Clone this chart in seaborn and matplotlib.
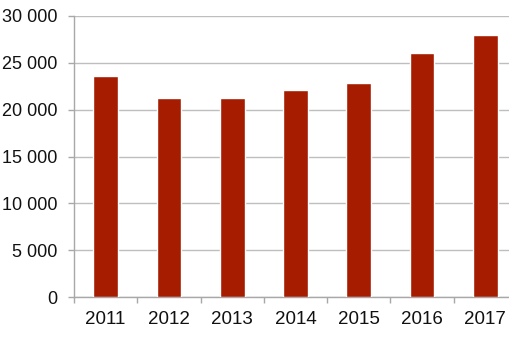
import matplotlib
matplotlib.use("Agg")
import matplotlib.pyplot as plt
import seaborn as sns
import pandas as pd
from matplotlib.ticker import FuncFormatter, FixedLocator

years = ["2011", "2012", "2013", "2014", "2015", "2016", "2017"]
values = [23600, 21200, 21200, 22050, 22900, 26000, 27950]
y_ticks = [0, 5000, 10000, 15000, 20000, 25000, 30000]

sns.set_theme(style="white")
plt.rcParams['font.family'] = ['Liberation Sans', 'DejaVu Sans']

df = pd.DataFrame({"year": years, "value": values})

fig = plt.figure(figsize=(5.10, 3.48), dpi=100)
ax = fig.add_axes([74/510, 51/348, (517-74)/510, 281/348])

sns.barplot(data=df, x="year", y="value", color="#A51C00", width=0.39,
            saturation=1, ax=ax, zorder=3)

ax.set_xlim(-0.5, len(years) - 0.5)
ax.set_ylim(0, 30000)
ax.set_yticks(y_ticks)
ax.yaxis.set_major_formatter(FuncFormatter(lambda v, p: f"{int(v):,}".replace(",", " ")))
ax.set_xlabel("")
ax.set_ylabel("")

grid_c = "#BEBEBE"
ax.grid(axis="y", color=grid_c, linewidth=1, zorder=0)
ax.set_axisbelow(True)
for s in ["top", "right"]:
    ax.spines[s].set_visible(False)
for s in ["left", "bottom"]:
    ax.spines[s].set_color("#A8A8A8")
    ax.spines[s].set_linewidth(1)

ax.xaxis.set_minor_locator(FixedLocator([i - 0.5 for i in range(len(years) + 1)]))
ax.tick_params(axis="x", which="major", length=0, pad=10, labelsize=13.5, labelcolor="#111111")
ax.tick_params(axis="x", which="minor", length=4, width=1, color="#A8A8A8", bottom=True)
ax.tick_params(axis="y", which="major", length=4, width=1, color="#A8A8A8", left=True,
               pad=8, labelsize=13, labelcolor="#111111")

fig.savefig("out.png", dpi=100)
